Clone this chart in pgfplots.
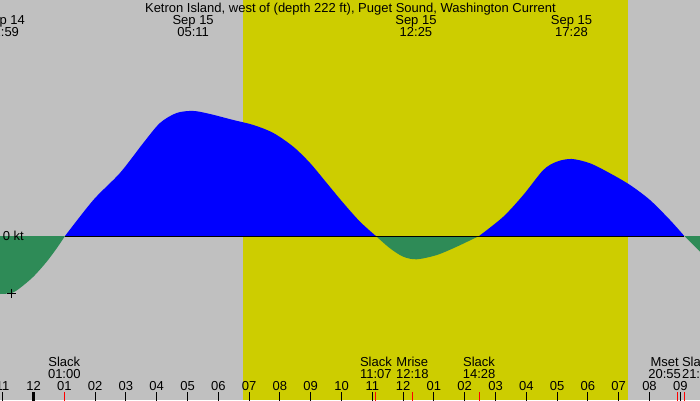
\documentclass[border=0pt]{standalone}
\usepackage{pgfplots}
\pgfplotsset{compat=1.18}
\usepackage{fontspec}
\setmainfont{Liberation Sans}
\definecolor{bggray}{RGB}{192,192,192}
\definecolor{dayyel}{RGB}{205,205,0}
\definecolor{flood}{RGB}{0,0,255}
\definecolor{ebb}{RGB}{46,139,87}

\begin{document}
\begin{tikzpicture}[font=\fontsize{13}{12}\selectfont]
\useasboundingbox (0,0) rectangle (700pt,400pt);
\clip (0,0) rectangle (700pt,400pt);
\begin{axis}[at={(0,0)}, anchor=south west, scale only axis,
  width=700pt, height=400pt,
  xmin=-1.088, xmax=21.64, ymin=-2.05, ymax=2.95,
  axis lines=none, clip=false]

% background: night and daylight
\addplot[draw=none, fill=bggray] coordinates {(-1.088,-2.05) (-1.088,2.95) (21.64,2.95) (21.64,-2.05)} -- cycle;
\addplot[draw=none, fill=dayyel] coordinates {(6.8,-2.05) (6.8,2.95) (19.3,2.95) (19.3,-2.05)} -- cycle;

% ebb (negative) and flood (positive) current, knots vs hours from Sep 15 00:00
\addplot[draw=none, fill=ebb, smooth] coordinates {
(-1.088,-0.725) (-0.708,-0.713) (-0.438,-0.65) (-0.006,-0.509) (0.429,-0.321) (0.753,-0.154) (1.023,0)
} \closedcycle;
\addplot[draw=none, fill=flood, smooth] coordinates {
(1.023,0) (1.942,0.45) (2.808,0.788) (3.565,1.163) (4.107,1.413) (4.649,1.538) (5.188,1.563)
(5.731,1.525) (6.487,1.45) (7.136,1.388) (7.786,1.288) (8.435,1.116) (8.977,0.913)
(9.519,0.663) (10.058,0.413) (10.601,0.179) (11.117,0)
} \closedcycle;
\addplot[draw=none, fill=ebb, smooth] coordinates {
(11.117,0) (11.575,-0.154) (12.006,-0.259) (12.442,-0.291) (13.091,-0.238) (13.74,-0.134) (14.467,0)
} \closedcycle;
\addplot[draw=none, fill=flood, smooth] coordinates {
(14.467,0) (15.253,0.241) (15.903,0.513) (16.552,0.825) (16.987,0.929) (17.474,0.963)
(18.068,0.909) (18.718,0.784) (19.367,0.638) (20.016,0.45) (20.666,0.2) (21.13,0)
} \closedcycle;
\addplot[draw=none, fill=ebb, smooth] coordinates {
(21.13,0) (21.64,-0.196)
} \closedcycle;

\addplot[black, line width=1pt] coordinates {(1.023,0) (21.13,0)};
\addplot[only marks, mark=+, mark size=4.5pt, black, mark options={line width=0.9pt}] coordinates {(-0.708,-0.713)};

% hour ticks and labels
\foreach \h/\l in {-1/11,0/12,1/01,2/02,3/03,4/04,5/05,6/06,7/07,8/08,9/09,10/10,11/11,
                   12/12,13/01,14/02,15/03,16/04,17/05,18/06,19/07,20/08,21/09} {
  \edef\tmp{\noexpand\node[anchor=base, inner sep=0pt] at (axis cs:\h,-1.925) {\l};
    \noexpand\draw[black, line width=1pt] (axis cs:\h,-1.95) -- (axis cs:\h,-2.06);}
  \tmp
}
\draw[black, line width=3pt] (axis cs:0,-1.95) -- (axis cs:0,-2.06);
\foreach \h in {1.0,11.117,12.3,14.467,20.917,21.13} {
  \edef\tmp{\noexpand\draw[red, line width=1pt] (axis cs:\h,-1.95) -- (axis cs:\h,-2.06);}
  \tmp
}

% event labels
\node[anchor=base, inner sep=0pt] at (axis cs:1.0,-1.634) {Slack};
\node[anchor=base, inner sep=0pt] at (axis cs:1.0,-1.775) {01:00};
\node[anchor=base, inner sep=0pt] at (axis cs:11.117,-1.634) {Slack};
\node[anchor=base, inner sep=0pt] at (axis cs:11.117,-1.775) {11:07};
\node[anchor=base, inner sep=0pt] at (axis cs:12.3,-1.634) {Mrise};
\node[anchor=base, inner sep=0pt] at (axis cs:12.3,-1.775) {12:18};
\node[anchor=base, inner sep=0pt] at (axis cs:14.467,-1.634) {Slack};
\node[anchor=base, inner sep=0pt] at (axis cs:14.467,-1.775) {14:28};
\node[anchor=base, inner sep=0pt] at (axis cs:20.49,-1.634) {Mset};
\node[anchor=base, inner sep=0pt] at (axis cs:20.49,-1.775) {20:55};
\node[anchor=base west, inner sep=0pt] at (axis cs:21.05,-1.634) {Slack};
\node[anchor=base west, inner sep=0pt] at (axis cs:21.05,-1.775) {21:08};

% zero label
\node[anchor=base west, inner sep=0pt] at (axis cs:-1.0,-0.059) {0 kt};

% title and extremes
\node[anchor=base, inner sep=0pt] at (axis cs:10.29,2.794) {Ketron Island, west of (depth 222 ft), Puget Sound, Washington Current};
\node[anchor=base, inner sep=0pt] at (axis cs:-0.95,2.65) {Sep 14};
\node[anchor=base, inner sep=0pt] at (axis cs:-1.0,2.5) {22:59};
\node[anchor=base, inner sep=0pt] at (axis cs:5.183,2.65) {Sep 15};
\node[anchor=base, inner sep=0pt] at (axis cs:5.183,2.5) {05:11};
\node[anchor=base, inner sep=0pt] at (axis cs:12.417,2.65) {Sep 15};
\node[anchor=base, inner sep=0pt] at (axis cs:12.417,2.5) {12:25};
\node[anchor=base, inner sep=0pt] at (axis cs:17.467,2.65) {Sep 15};
\node[anchor=base, inner sep=0pt] at (axis cs:17.467,2.5) {17:28};
\end{axis}
\end{tikzpicture}
\end{document}
